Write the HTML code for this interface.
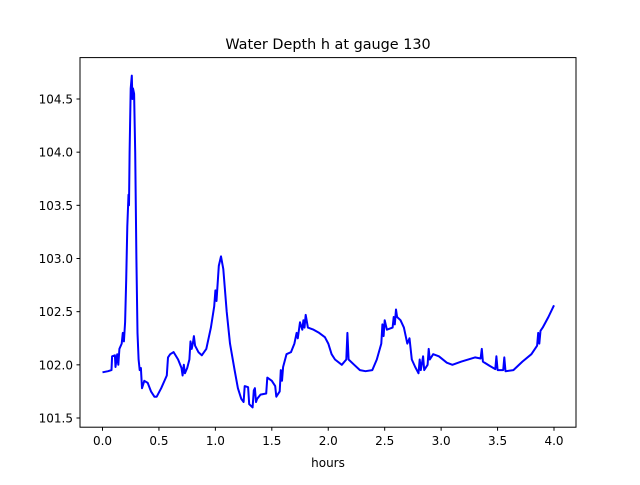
<!DOCTYPE html>
<html><head><meta charset="utf-8"><style>
body{margin:0;background:#fff}
svg{font-family:"DejaVu Sans","Liberation Sans",sans-serif}
</style></head><body>
<svg id="chart" width="640" height="480" viewBox="0 0 640 480">
<rect width="640" height="480" fill="#fff"/>
<text x="328" y="49" text-anchor="middle" font-size="14.4">Water Depth h at gauge 130</text>
<g id="plot"></g>
<rect x="80" y="57.6" width="496" height="369.6" fill="none" stroke="#000" stroke-width="1"/>
<text x="328" y="467" text-anchor="middle" font-size="12">hours</text>
</svg>
<script>
const times=[0,0.05,0.08,0.085,0.11,0.115,0.13,0.14,0.15,0.17,0.18,0.19,0.2,0.21,0.22,0.23,0.235,0.24,0.25,0.26,0.265,0.27,0.28,0.29,0.3,0.31,0.32,0.33,0.34,0.35,0.37,0.4,0.43,0.46,0.48,0.52,0.57,0.58,0.6,0.63,0.67,0.7,0.71,0.72,0.73,0.75,0.77,0.78,0.79,0.8,0.81,0.82,0.85,0.88,0.92,0.96,0.99,1.0,1.01,1.03,1.05,1.07,1.1,1.13,1.17,1.2,1.23,1.25,1.26,1.29,1.3,1.33,1.34,1.35,1.36,1.37,1.4,1.45,1.46,1.5,1.53,1.54,1.57,1.58,1.59,1.6,1.63,1.67,1.7,1.72,1.73,1.75,1.77,1.78,1.79,1.8,1.82,1.87,1.92,1.97,2.0,2.03,2.06,2.12,2.16,2.17,2.18,2.23,2.28,2.33,2.39,2.43,2.47,2.48,2.49,2.5,2.52,2.57,2.58,2.59,2.6,2.61,2.64,2.67,2.7,2.72,2.74,2.77,2.79,2.8,2.81,2.82,2.84,2.85,2.88,2.89,2.9,2.93,2.98,3.05,3.1,3.18,3.3,3.35,3.36,3.37,3.43,3.48,3.49,3.5,3.55,3.56,3.57,3.64,3.72,3.8,3.85,3.86,3.87,3.88,3.9,3.95,4.0];
const depths=[101.93,101.94,101.95,102.08,102.09,101.98,102.1,102.0,102.15,102.2,102.3,102.22,102.4,102.8,103.3,103.6,103.5,104.0,104.6,104.72,104.5,104.6,104.55,104.0,103.0,102.3,102.05,101.95,101.97,101.78,101.85,101.83,101.75,101.7,101.7,101.78,101.9,102.07,102.1,102.12,102.05,101.97,101.9,102.0,101.92,101.97,102.05,102.22,102.15,102.2,102.27,102.18,102.12,102.09,102.15,102.35,102.55,102.7,102.6,102.93,103.02,102.9,102.5,102.2,101.95,101.78,101.68,101.65,101.8,101.79,101.63,101.6,101.76,101.78,101.65,101.68,101.72,101.73,101.88,101.85,101.8,101.7,101.75,101.95,101.85,101.98,102.1,102.12,102.2,102.3,102.25,102.4,102.33,102.42,102.35,102.47,102.35,102.33,102.3,102.26,102.2,102.1,102.05,102.0,102.05,102.3,102.05,102.0,101.95,101.94,101.95,102.05,102.2,102.38,102.27,102.42,102.33,102.35,102.45,102.38,102.52,102.45,102.42,102.35,102.2,102.25,102.05,101.98,101.94,101.92,102.05,101.95,102.08,101.95,102.0,102.15,102.05,102.1,102.08,102.02,102.0,102.03,102.07,102.06,102.15,102.03,101.99,101.96,102.08,101.95,101.95,102.07,101.94,101.95,102.03,102.1,102.18,102.3,102.2,102.32,102.35,102.45,102.56];
const xTicks=[0,0.5,1,1.5,2,2.5,3,3.5,4];
const xTickLabels=["0.0","0.5","1.0","1.5","2.0","2.5","3.0","3.5","4.0"];
const yTicks=[101.5,102,102.5,103,103.5,104,104.5];
const yTickLabels=["101.5","102.0","102.5","103.0","103.5","104.0","104.5"];
const NS="http://www.w3.org/2000/svg";
const xs=t=>102.5+(t-0)*(554-102.5)/4;
const ys=h=>418-(h-101.5)*(418-99)/3;
const g=document.getElementById('plot');
xTicks.forEach((t,i)=>{
 const l=document.createElementNS(NS,'line');
 
 
 l.setAttribute('x1',xs(t));l.setAttribute('x2',xs(t));l.setAttribute('y1',427.2);l.setAttribute('y2',430.7);l.setAttribute('stroke','#000');
 g.appendChild(l);
 const tx=document.createElementNS(NS,'text');
 
 
 tx.setAttribute('x',xs(t));tx.setAttribute('y',445);tx.setAttribute('text-anchor','middle');tx.setAttribute('font-size','12');
 tx.textContent=xTickLabels[i];g.appendChild(tx);
});
yTicks.forEach((h,i)=>{
 const l=document.createElementNS(NS,'line');
 
 
 l.setAttribute('x1',76.5);l.setAttribute('x2',80);l.setAttribute('y1',ys(h));l.setAttribute('y2',ys(h));l.setAttribute('stroke','#000');
 g.appendChild(l);
 const tx=document.createElementNS(NS,'text');
 
 
 tx.setAttribute('x',73);tx.setAttribute('y',ys(h)+4.5);tx.setAttribute('text-anchor','end');tx.setAttribute('font-size','12');
 tx.textContent=yTickLabels[i];g.appendChild(tx);
});
const p=document.createElementNS(NS,'path');


p.setAttribute('d',times.map((t,i)=>(i?'L':'M')+xs(t).toFixed(1)+' '+ys(depths[i]).toFixed(1)).join(' '));
p.setAttribute('fill','none');p.setAttribute('stroke','#0000ff');p.setAttribute('stroke-width','2');p.setAttribute('stroke-linejoin','round');
g.appendChild(p);
</script>
</body></html>
